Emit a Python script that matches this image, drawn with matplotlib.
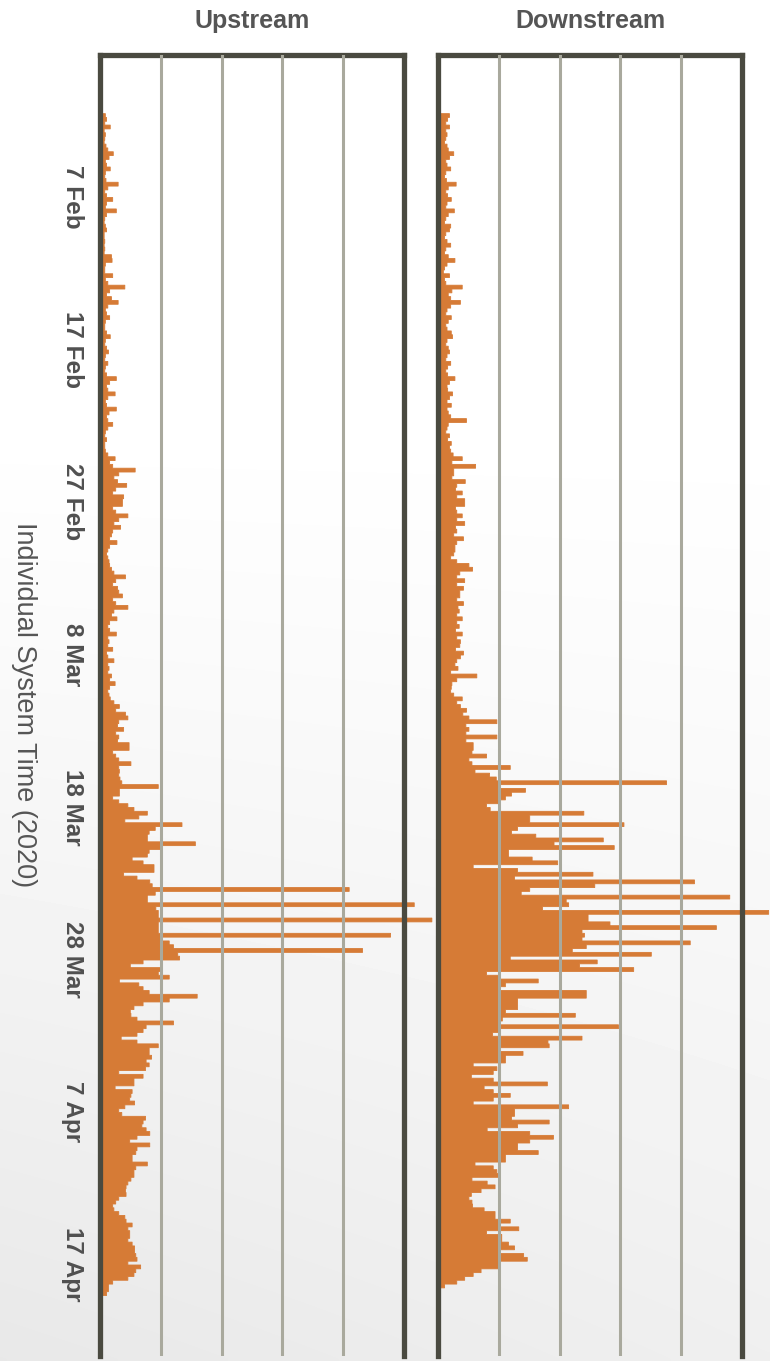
"""Upstream vs downstream individual system time, Feb-Apr 2020."""

import numpy as np
import pandas as pd
import matplotlib

matplotlib.use("Agg")
import matplotlib.pyplot as plt

plt.rcParams["font.family"] = ["Liberation Sans", "DejaVu Sans"]

# 6-hourly values, first sample at 1 Feb 12:00 (gridline spacing = 1 unit)
upstream_start = "2020-02-01 12:00"
upstream = [
    0.08, 0.10,
    0.07, 0.16, 0.06, 0.08,  0.07, 0.06, 0.09, 0.12,
    0.21, 0.14, 0.08, 0.10,  0.16, 0.08, 0.07, 0.09,
    0.29, 0.12, 0.07, 0.10,  0.20, 0.10, 0.08, 0.26,
    0.10, 0.07, 0.06, 0.08,  0.10, 0.06, 0.06, 0.07,
    0.06, 0.07, 0.06, 0.18,  0.19, 0.08, 0.07, 0.07,
    0.20, 0.08, 0.12, 0.40,  0.15, 0.10, 0.18, 0.29,
    0.12, 0.08, 0.10, 0.15,  0.08, 0.07, 0.07, 0.10,
    0.16, 0.08, 0.07, 0.10,  0.13, 0.08, 0.07, 0.12,
    0.08, 0.07, 0.10, 0.26,  0.15, 0.10, 0.12, 0.24,
    0.12, 0.08, 0.10, 0.26,  0.14, 0.10, 0.12, 0.20,
    0.12, 0.08, 0.07, 0.10,  0.07, 0.07, 0.08, 0.12,
    0.24, 0.15, 0.20, 0.57,  0.30, 0.22, 0.28, 0.43,
    0.25, 0.20, 0.38, 0.36,  0.36, 0.20, 0.25, 0.45,
    0.30, 0.22, 0.33, 0.20,  0.18, 0.15, 0.27, 0.15,
    0.12, 0.10, 0.12, 0.14,  0.15, 0.18, 0.22, 0.41,
    0.25, 0.20, 0.28, 0.30,  0.36, 0.20, 0.25, 0.45,
    0.22, 0.18, 0.27, 0.15,  0.12, 0.15, 0.26, 0.12,
    0.14, 0.12, 0.20, 0.10,  0.12, 0.22, 0.12, 0.14,
    0.12, 0.18, 0.15, 0.24,  0.15, 0.12, 0.14, 0.16,
    0.22, 0.31, 0.25, 0.41,  0.45, 0.30, 0.28, 0.38,
    0.25, 0.30, 0.28, 0.47,  0.47, 0.20, 0.25, 0.30,
    0.50, 0.30, 0.31, 0.30,  0.32, 0.35, 0.95, 0.31,
    0.31, 0.20, 0.30, 0.45,  0.55, 0.77, 0.63, 0.40,
    1.34, 0.90, 0.80, 0.77,  0.77, 1.56, 0.99, 0.80,
    0.77, 0.52, 0.70, 0.88,  0.88, 0.38, 0.60, 0.81,
    0.85, 4.09, 0.90, 0.77,  0.77, 5.16, 0.91, 0.95,
    0.95, 5.45, 0.95, 0.95,  0.95, 4.77, 1.00, 1.13,
    1.20, 4.31, 1.27, 1.30,  0.70, 0.49, 1.02, 0.95,
    1.13, 0.31, 0.63, 0.70,  0.80, 1.59, 1.13, 0.70,
    0.55, 0.49, 0.50, 0.60,  1.20, 0.75, 0.70, 0.60,
    0.34, 0.60, 0.95, 0.80,  0.80, 0.84, 0.75, 0.80,
    0.74, 0.30, 0.70, 0.55,  0.55, 0.24, 0.52, 0.50,
    0.48, 0.56, 0.40, 0.30,  0.35, 0.74, 0.70, 0.68,
    0.75, 0.81, 0.60, 0.48,  0.81, 0.60, 0.58, 0.52,
    0.52, 0.77, 0.58, 0.55,  0.55, 0.50, 0.45, 0.42,
    0.41, 0.42, 0.30, 0.25,  0.20, 0.22, 0.30, 0.40,
    0.42, 0.52, 0.45, 0.48,  0.48, 0.45, 0.52, 0.56,
    0.56, 0.58, 0.60, 0.45,  0.66, 0.58, 0.55, 0.45,
    0.20, 0.13, 0.13, 0.10,
]

downstream_start = "2020-02-01 12:00"
downstream = [
    0.18, 0.15,
    0.12, 0.18, 0.12, 0.14,  0.12, 0.10, 0.14, 0.16,
    0.25, 0.18, 0.12, 0.14,  0.20, 0.12, 0.10, 0.13,
    0.29, 0.16, 0.12, 0.15,  0.21, 0.14, 0.12, 0.26,
    0.16, 0.12, 0.10, 0.20,  0.18, 0.12, 0.10, 0.14,
    0.20, 0.12, 0.10, 0.16,  0.27, 0.14, 0.10, 0.08,
    0.18, 0.10, 0.12, 0.39,  0.22, 0.16, 0.20, 0.36,
    0.20, 0.14, 0.12, 0.21,  0.16, 0.12, 0.14, 0.21,
    0.23, 0.14, 0.12, 0.16,  0.18, 0.14, 0.12, 0.20,
    0.15, 0.12, 0.15, 0.27,  0.18, 0.14, 0.15, 0.23,
    0.18, 0.14, 0.21, 0.14,  0.16, 0.20, 0.46, 0.16,
    0.14, 0.12, 0.18, 0.15,  0.21, 0.18, 0.20, 0.24,
    0.39, 0.22, 0.61, 0.25,  0.25, 0.22, 0.44, 0.30,
    0.28, 0.39, 0.30, 0.43,  0.43, 0.28, 0.30, 0.39,
    0.30, 0.43, 0.28, 0.30,  0.25, 0.41, 0.30, 0.27,
    0.27, 0.25, 0.20, 0.30,  0.50, 0.56, 0.35, 0.30,
    0.43, 0.30, 0.41, 0.35,  0.35, 0.30, 0.41, 0.32,
    0.34, 0.30, 0.39, 0.30,  0.34, 0.28, 0.39, 0.30,
    0.36, 0.35, 0.28, 0.41,  0.36, 0.30, 0.27, 0.32,
    0.20, 0.63, 0.30, 0.22,  0.21, 0.20, 0.25, 0.39,
    0.30, 0.36, 0.46, 0.40,  0.50, 0.96, 0.45, 0.50,
    0.45, 0.96, 0.45, 0.57,  0.57, 0.55, 0.79, 0.50,
    0.55, 1.18, 0.60, 0.84,  0.95, 3.75, 1.00, 1.43,
    1.20, 1.10, 0.98, 0.79,  0.85, 2.39, 1.50, 1.50,
    3.05, 1.30, 1.20, 1.60,  2.71, 1.90, 2.89, 1.15,
    1.15, 1.54, 1.96, 0.57,  1.30, 2.54, 1.25, 4.21,
    2.57, 1.50, 1.36, 4.79,  2.10, 2.14, 1.71, 5.43,
    2.46, 2.46, 2.82, 4.57,  2.36, 2.40, 2.36, 4.14,
    2.43, 2.20, 3.50, 1.18,  2.61, 2.32, 3.21, 0.79,
    1.00, 1.64, 1.10, 1.00,  2.43, 2.43, 1.30, 1.30,
    1.30, 1.10, 2.25, 1.05,  1.00, 2.96, 1.00, 0.89,
    2.36, 1.80, 1.82, 1.00,  1.39, 1.10, 1.10, 0.57,
    0.96, 0.90, 0.54, 0.90,  1.79, 0.75, 0.90, 1.18,
    0.90, 0.57, 2.14, 1.25,  1.25, 1.20, 1.82, 1.30,
    0.80, 1.50, 1.89, 1.50,  1.30, 1.30, 1.64, 1.10,
    1.10, 0.60, 0.90, 0.96,  1.00, 0.55, 0.80, 0.93,
    0.70, 0.54, 0.50, 0.55,  0.56, 0.75, 0.93, 0.93,
    1.18, 1.00, 1.32, 0.79,  1.04, 1.04, 1.15, 1.25,
    1.00, 1.40, 1.46, 1.00,  1.00, 0.70, 0.57, 0.43,
    0.30, 0.10,
]

tick_dates = ["2020-02-07", "2020-02-17", "2020-02-27", "2020-03-08",
              "2020-03-18", "2020-03-28", "2020-04-07", "2020-04-17"]
tick_labels = ["7 Feb", "17 Feb", "27 Feb", "8 Mar",
               "18 Mar", "28 Mar", "7 Apr", "17 Apr"]
grid_values = [1, 2, 3, 4]

ORANGE = "#d67b36"
FRAME = "#4a4a40"
GRID = "#a9a99d"
TEXT = "#555555"

W, H = 770, 1361
fig = plt.figure(figsize=(W / 100, H / 100), dpi=100)

# soft grey wash towards the bottom of the page
bg = fig.add_axes([0, 0, 1, 1], zorder=-10)
yy, xx = np.mgrid[0:1:300j, 0:1:150j]
shade = 1 - 0.09 * np.clip((yy - 0.3) / 0.7, 0, 1) ** 1.1 * (1 - 0.3 * xx)
bg.imshow(shade, cmap="gray", vmin=0, vmax=1, aspect="auto",
          extent=[0, 1, 0, 1], interpolation="bilinear")
bg.axis("off")

panels = [
    ("Upstream", upstream_start, upstream, 100),
    ("Downstream", downstream_start, downstream, 438),
]
ytop = pd.Timestamp("2020-01-28 16:30")
ybot = pd.Timestamp("2020-04-23 00:00")

for i, (title, start, vals, left_px) in enumerate(panels):
    ax = fig.add_axes([left_px / W, 5 / H, 304 / W, 1301 / H])
    ax.patch.set_alpha(0)
    t = pd.date_range(start, periods=len(vals) + 1, freq="6h")
    x = np.append(vals, vals[-1])
    ax.fill_betweenx(t, 0, x, step="post", color=ORANGE, lw=0.6,
                     edgecolor=ORANGE, clip_on=False, zorder=1)
    ax.set_xlim(0, 5)
    ax.set_ylim(ybot, ytop)

    ax.set_xticks(grid_values)
    ax.set_axisbelow(False)
    ax.grid(axis="x", color=GRID, lw=2.2)
    ax.tick_params(axis="x", length=0, labelbottom=False)

    for side in ("left", "top", "right"):
        ax.spines[side].set_color(FRAME)
        ax.spines[side].set_linewidth(3.8)
    ax.spines["bottom"].set_visible(False)

    if i == 0:
        ax.set_yticks(pd.to_datetime(tick_dates))
        ax.set_yticklabels(tick_labels, rotation=-90, ha="center", va="center",
                           fontsize=17.5, fontweight="bold", color="#505050")
        ax.tick_params(axis="y", length=0, pad=20)
    else:
        ax.set_yticks([])

    fig.text((left_px + 152) / W, 1 - 21 / H, title, ha="center", va="center",
             fontsize=18, fontweight="bold", color=TEXT)

fig.text(24 / W, 1 - 705 / H, "Individual System Time (2020)", rotation=-90,
         ha="center", va="center", fontsize=19.5, color=TEXT)

fig.savefig("out.png", dpi=100)
